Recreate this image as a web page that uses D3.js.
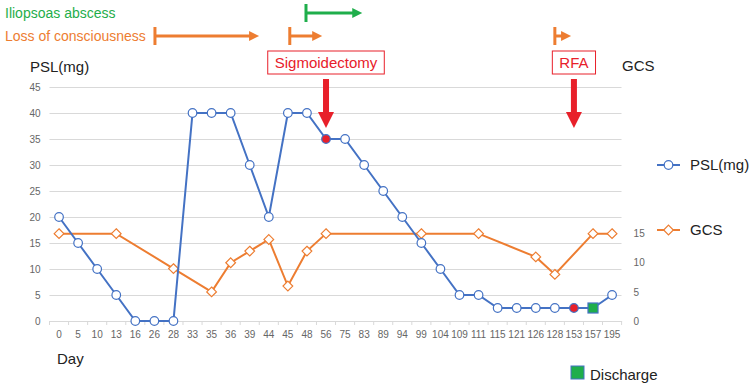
<!DOCTYPE html>
<html>
<head>
<meta charset="utf-8">
<script src="https://cdn.jsdelivr.net/npm/d3@7"></script>
<style>
  body { margin: 0; background: #fff; }
  svg { font-family: "Liberation Sans", Arial, sans-serif; }
  .tick-label { fill: #666; font-size: 10px; }
  .title { fill: #222; font-size: 15px; }
</style>
</head>
<body>
<svg id="chart"></svg>
<script>
// Data
const days = ["0","5","10","13","16","26","28","33","35","36","39","44","45","48","56","75","83","89","94","99","104","109","111","115","121","126","128","153","157","195"];
const psl  = [20,15,10,5,0,0,0,40,40,40,30,20,40,40,35,35,30,25,20,15,10,5,5,2.5,2.5,2.5,2.5,2.5,2.5,5];
const gcs  = [15,null,null,15,null,null,9,null,5,10,12,14,6,12,15,null,null,null,null,15,null,null,15,null,null,11,8,null,15,15];
const pslTicks = [0,5,10,15,20,25,30,35,40,45];
const gcsTicks = [0,5,10,15];
const surgeryDays = ["56","153"];
const surgeryLabels = ["Sigmoidectomy","RFA"];
const dischargeDay = "157";
// spans in category-index units
const lossSpans = [[5.03, 10.49], [12.1, 13.8], [26.0, 26.85]];
const abscessSpans = [[12.95, 15.9]];

const width = 750, height = 385;
const blue = "#4472c4", orange = "#ed7d31", red = "#e8202a", green = "#1fae4b";

const svg = d3.select("#chart").attr("width", width).attr("height", height);

const x = d3.scaleBand().domain(days).range([49.5, 621.6]);
const cx = d => x(d) + x.bandwidth() / 2;
const xi = i => x(days[0]) + x.bandwidth() / 2 + i * x.step();
const y = d3.scaleLinear().domain([0, 45]).range([321, 87]);
const y2 = d3.scaleLinear().domain([0, 40]).range([321, 88]);

// Grid
svg.append("g")
    .attr("transform", "translate(49.5,0)")
    .call(d3.axisLeft(y).tickValues(pslTicks).tickSize(-572).tickPadding(9))
    .call(g => g.select(".domain").remove())
    .call(g => g.selectAll("line").attr("stroke", "#d9d9d9"))
    .call(g => g.selectAll("text").attr("class", "tick-label").attr("font-family", null).attr("font-size", null));

// Right axis
svg.append("g")
    .attr("transform", "translate(621.6,0)")
    .call(d3.axisRight(y2).tickValues(gcsTicks).tickSize(0).tickPadding(12))
    .call(g => g.select(".domain").remove())
    .call(g => g.selectAll("text").attr("class", "tick-label").attr("font-family", null).attr("font-size", null));

// Bottom axis
const xAxis = svg.append("g")
    .attr("transform", "translate(0,321)")
    .call(d3.axisBottom(x).tickSize(0).tickPadding(10))
    .call(g => g.select(".domain").attr("stroke", "#d9d9d9"))
    .call(g => g.selectAll("text").attr("class", "tick-label").attr("font-family", null).attr("font-size", null));

xAxis.selectAll(".sep")
    .data(days.concat(["end"]))
    .enter().append("line")
    .attr("x1", (d, i) => 49.5 + i * x.step())
    .attr("x2", (d, i) => 49.5 + i * x.step())
    .attr("y1", 0).attr("y2", 4)
    .attr("stroke", "#d9d9d9");

// GCS line
const gcsPts = days.map((d, i) => ({ d, v: gcs[i] })).filter(p => p.v !== null);
svg.append("path")
    .datum(gcsPts)
    .attr("fill", "none")
    .attr("stroke", orange)
    .attr("stroke-width", 2)
    .attr("d", d3.line().x(p => cx(p.d)).y(p => y2(p.v)));

const diamond = d3.symbol().type(d3.symbolDiamond2).size(60);
svg.selectAll(".gcs-pt")
    .data(gcsPts)
    .enter().append("path")
    .attr("transform", p => `translate(${cx(p.d)},${y2(p.v)})`)
    .attr("d", diamond)
    .attr("fill", "#fff")
    .attr("stroke", orange)
    .attr("stroke-width", 1.2);

// PSL line
const pslPts = days.map((d, i) => ({ d, v: psl[i] }));
svg.append("path")
    .datum(pslPts)
    .attr("fill", "none")
    .attr("stroke", blue)
    .attr("stroke-width", 2)
    .attr("d", d3.line().x(p => cx(p.d)).y(p => y(p.v)));

svg.selectAll(".psl-pt")
    .data(pslPts.filter(p => p.d !== dischargeDay))
    .enter().append("circle")
    .attr("cx", p => cx(p.d))
    .attr("cy", p => y(p.v))
    .attr("r", 4.3)
    .attr("fill", p => surgeryDays.includes(p.d) ? red : "#fff")
    .attr("stroke", blue)
    .attr("stroke-width", 1.2);

const dIdx = days.indexOf(dischargeDay);
svg.append("rect")
    .attr("x", cx(dischargeDay) - 5)
    .attr("y", y(psl[dIdx]) - 5)
    .attr("width", 10).attr("height", 10)
    .attr("fill", green)
    .attr("stroke", blue)
    .attr("stroke-width", 1.2);

// Surgery boxes and red arrows
surgeryDays.forEach((d, i) => {
    const g = svg.append("g");
    const t = g.append("text")
        .attr("x", cx(d))
        .attr("y", 68)
        .attr("text-anchor", "middle")
        .attr("fill", red)
        .attr("font-size", "15px")
        .text(surgeryLabels[i]);
    const w = t.node().getComputedTextLength();
    g.insert("rect", "text")
        .attr("x", cx(d) - w / 2 - 7)
        .attr("y", 51)
        .attr("width", w + 14)
        .attr("height", 23)
        .attr("fill", "#fff")
        .attr("stroke", red)
        .attr("stroke-width", 1);
    g.append("rect")
        .attr("x", cx(d) - 3).attr("y", 79)
        .attr("width", 6).attr("height", 34)
        .attr("fill", red);
    g.append("path")
        .attr("d", `M${cx(d) - 8},112 L${cx(d) + 8},112 L${cx(d)},128 Z`)
        .attr("fill", red);
});

// Event arrows
function span(s, yy, color) {
    const x0 = xi(s[0]), x1 = xi(s[1]);
    svg.append("line").attr("x1", x0).attr("x2", x0).attr("y1", yy - 9).attr("y2", yy + 9)
        .attr("stroke", color).attr("stroke-width", 3);
    svg.append("line").attr("x1", x0).attr("x2", x1 - 8).attr("y1", yy).attr("y2", yy)
        .attr("stroke", color).attr("stroke-width", 3);
    svg.append("path").attr("d", `M${x1 - 10},${yy - 5} L${x1},${yy} L${x1 - 10},${yy + 5} Z`)
        .attr("fill", color);
}
lossSpans.forEach(s => span(s, 36, orange));
abscessSpans.forEach(s => span(s, 13, green));

svg.append("text").attr("x", 5).attr("y", 18).attr("fill", green).attr("font-size", "14px").text("Iliopsoas abscess");
svg.append("text").attr("x", 5).attr("y", 41).attr("fill", orange).attr("font-size", "14px").text("Loss of consciousness");

// Axis titles
svg.append("text").attr("class", "title").attr("x", 30).attr("y", 72).text("PSL(mg)");
svg.append("text").attr("class", "title").attr("x", 622).attr("y", 71).text("GCS");
svg.append("text").attr("class", "title").attr("x", 57).attr("y", 364).text("Day");

// Legend
const legend = svg.append("g").attr("transform", "translate(657,0)");
legend.append("line").attr("x1", 0).attr("x2", 23).attr("y1", 165).attr("y2", 165).attr("stroke", blue).attr("stroke-width", 2);
legend.append("circle").attr("cx", 11.5).attr("cy", 165).attr("r", 4.3).attr("fill", "#fff").attr("stroke", blue).attr("stroke-width", 1.2);
legend.append("text").attr("class", "title").attr("x", 33).attr("y", 170).text("PSL(mg)");
legend.append("line").attr("x1", 0).attr("x2", 23).attr("y1", 230).attr("y2", 230).attr("stroke", orange).attr("stroke-width", 2);
legend.append("path").attr("transform", "translate(11.5,230)").attr("d", diamond).attr("fill", "#fff").attr("stroke", orange).attr("stroke-width", 1.2);
legend.append("text").attr("class", "title").attr("x", 33).attr("y", 235).text("GCS");

svg.append("rect").attr("x", 571).attr("y", 366).attr("width", 13).attr("height", 13)
    .attr("fill", green).attr("stroke", blue).attr("stroke-width", 1);
svg.append("text").attr("class", "title").attr("x", 590).attr("y", 380).text("Discharge");
</script>
</body>
</html>
